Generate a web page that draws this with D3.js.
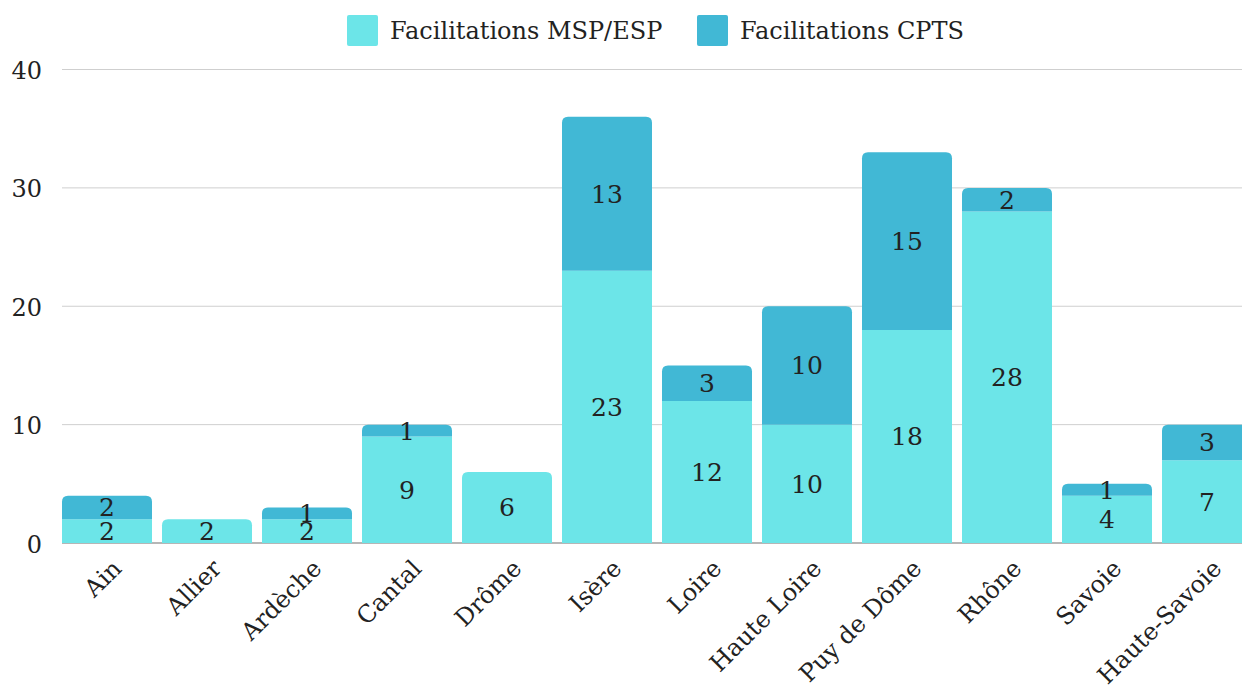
<!DOCTYPE html>
<html lang="fr">

<head>
  <meta charset="UTF-8">
  <title>Facilitations</title>
  <script src="https://cdn.jsdelivr.net/npm/d3@7"></script>
  <style>
    body { margin: 0; background: #fff; }
    text { font-family: "DejaVu Serif", serif; fill: #222; }
  </style>
</head>

<body>
  <div id="main" style="width: 1242px;height: 686px"></div>
  <script>
    // données
    var departements = ["Ain", "Allier", "Ardèche", "Cantal", "Drôme", "Isère", "Loire", "Haute Loire", "Puy de Dôme", "Rhône", "Savoie", "Haute-Savoie"];
    var mspEsp = [2, 2, 2, 9, 6, 23, 12, 10, 18, 28, 4, 7];
    var cpts = [2, 0, 1, 1, 0, 13, 3, 10, 15, 2, 1, 3];
    var seriesNames = ["Facilitations MSP/ESP", "Facilitations CPTS"];
    var colors = ["#6ce5e8", "#41b8d5"];
    var yTicks = [0, 10, 20, 30, 40];

    var width = 1242, height = 686;
    var svg = d3.select("#main").append("svg")
      .attr("width", width)
      .attr("height", height);

    var x = d3.scaleBand()
      .domain(departements)
      .range([57, 1257])
      .paddingInner(0.1)
      .paddingOuter(0.05);

    var y = d3.scaleLinear()
      .domain([0, 40])
      .range([543, 69.5]);

    // grille
    svg.append("g").selectAll("line").data(yTicks.slice(1)).enter().append("line")
      .attr("x1", 62).attr("x2", width)
      .attr("y1", function (d) { return y(d); })
      .attr("y2", function (d) { return y(d); })
      .attr("stroke", "#cfcfcf").attr("stroke-width", 1);

    svg.append("g").selectAll("text").data(yTicks).enter().append("text")
      .attr("x", 42)
      .attr("y", function (d) { return y(d); })
      .attr("dy", "0.4em")
      .attr("text-anchor", "end")
      .style("font-size", "24px")
      .text(function (d) { return d; });

    // axe du bas
    svg.append("line")
      .attr("x1", 62).attr("x2", width)
      .attr("y1", y(0)).attr("y2", y(0))
      .attr("stroke", "#9e9e9e").attr("stroke-width", 1.5);

    // barres empilées
    var rows = departements.map(function (d, i) {
      return { name: d, msp: mspEsp[i], cpts: cpts[i] };
    });
    var stack = d3.stack().keys(["msp", "cpts"])(rows);

    function topRounded(x0, y0, w, h, r) {
      return "M" + x0 + "," + (y0 + h) +
        "V" + (y0 + r) +
        "Q" + x0 + "," + y0 + " " + (x0 + r) + "," + y0 +
        "H" + (x0 + w - r) +
        "Q" + (x0 + w) + "," + y0 + " " + (x0 + w) + "," + (y0 + r) +
        "V" + (y0 + h) + "Z";
    }

    stack.forEach(function (serie, si) {
      var g = svg.append("g");
      g.selectAll("path").data(serie.filter(function (d) { return d[1] > d[0]; })).enter().append("path")
        .attr("fill", colors[si])
        .attr("d", function (d) {
          var bx = x(d.data.name), bw = x.bandwidth();
          var top = y(d[1]), h = y(d[0]) - y(d[1]);
          var isTop = si == stack.length - 1 || d.data.cpts == 0;
          if (isTop) return topRounded(bx, top, bw, h, 6);
          return "M" + bx + "," + top + "h" + bw + "v" + h + "h" + (-bw) + "Z";
        });

      g.selectAll("text").data(serie.filter(function (d) { return d[1] > d[0]; })).enter().append("text")
        .attr("x", function (d) { return x(d.data.name) + x.bandwidth() / 2; })
        .attr("y", function (d) { return (y(d[0]) + y(d[1])) / 2; })
        .attr("dy", "0.36em")
        .attr("text-anchor", "middle")
        .style("font-size", "25px")
        .text(function (d) { return d[1] - d[0]; });
    });

    // libellés x
    svg.append("g").selectAll("text").data(departements).enter().append("text")
      .attr("transform", function (d) {
        return "translate(" + (x(d) + x.bandwidth() / 2 + 10) + ",564) rotate(-45)";
      })
      .attr("text-anchor", "end")
      .attr("dy", "0.35em")
      .style("font-size", "24px")
      .text(function (d) { return d; });

    // légende
    var legendX = [347, 697];
    var legend = svg.append("g").selectAll("g").data(seriesNames).enter().append("g")
      .attr("transform", function (d, i) { return "translate(" + legendX[i] + ",15)"; });
    legend.append("rect")
      .attr("width", 31).attr("height", 31).attr("rx", 2)
      .attr("fill", function (d, i) { return colors[i]; });
    legend.append("text")
      .attr("x", 43).attr("y", 15.5).attr("dy", "0.36em")
      .style("font-size", "24px")
      .text(function (d) { return d; });
  </script>
</body>

</html>
